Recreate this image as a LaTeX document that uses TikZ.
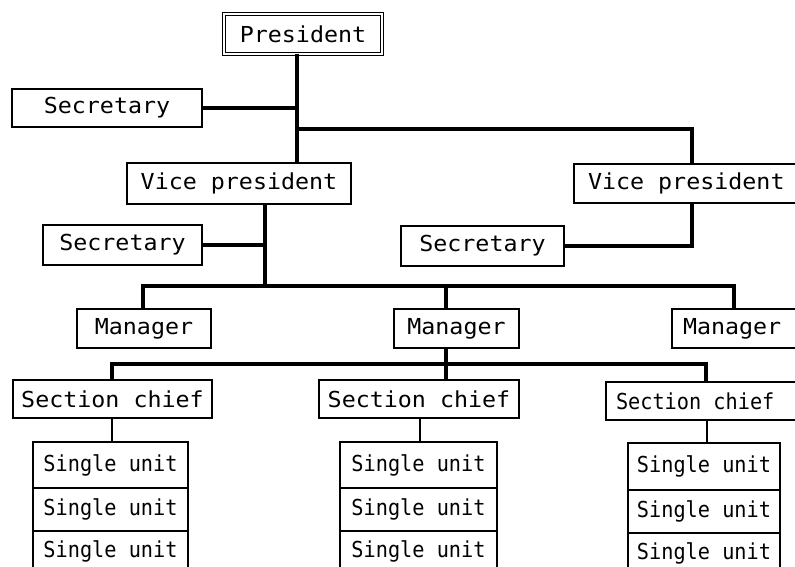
\documentclass[tikz,border=0pt]{standalone}
\usepackage{fontspec}
\newfontfamily\plotfont{DejaVu Sans Mono}[FakeStretch=1.06]
\newfontfamily\unitfont{DejaVu Sans Mono}[FakeStretch=0.92]
\newcommand{\lefttext}[1]{\makebox[200pt][l]{#1}}
\begin{document}
\begin{tikzpicture}[x=1pt,y=-1pt,
  box/.style={draw, line width=1.3pt, font={\plotfont\fontsize{22}{26}\selectfont},
    inner sep=0pt, outer sep=0pt, anchor=north west},
  lbox/.style={box, inner xsep=#1},
  unit/.style={draw, line width=1.3pt, font={\unitfont\fontsize{22}{26}\selectfont},
    inner sep=0pt, outer sep=0pt, anchor=north west},
  bar/.style={line width=3.2pt},
  link/.style={line width=1.3pt}]
\useasboundingbox (0,0) rectangle (795,567);
\clip (0,0) rectangle (795,567);
% boxes
\node[box, double, double distance=2.5pt, line width=0.9pt,
      minimum width=158pt, minimum height=40pt] (pres) at (224,14) {President};
\node[box, minimum width=190pt, minimum height=38pt] (sec1) at (12,89) {Secretary};
\node[box, minimum width=224pt, minimum height=41pt] (vp1) at (127,163) {Vice president};
\node[lbox=14pt, minimum height=39pt] (vp2) at (574,164) {\lefttext{Vice president}};
\node[box, minimum width=159pt, minimum height=40pt] (sec2) at (43,225) {Secretary};
\node[box, minimum width=163pt, minimum height=40pt] (sec3) at (401,226) {Secretary};
\node[box, minimum width=134pt, minimum height=39pt] (man1) at (77,309) {Manager};
\node[box, minimum width=125pt, minimum height=39pt] (man2) at (394,309) {Manager};
\node[lbox=11pt, minimum height=39pt] (man3) at (672,309) {\lefttext{Manager}};
\node[box, minimum width=199pt, minimum height=38pt] (sc1) at (13,380) {Section chief};
\node[box, minimum width=200pt, minimum height=38pt] (sc2) at (319,380) {Section chief};
\node[lbox=10pt, minimum height=38pt, font={\unitfont\fontsize{22}{26}\selectfont}] (sc3) at (606,382) {\lefttext{Section chief}};
% single units
\node[unit, minimum width=155pt, minimum height=46pt] (u11) at (33,442) {Single unit};
\node[unit, minimum width=155pt, minimum height=43pt] (u12) at (33,488) {Single unit};
\node[unit, minimum width=155pt, minimum height=40pt] (u13) at (33,531) {Single unit};
\node[unit, minimum width=157pt, minimum height=46pt] (u21) at (340,442) {Single unit};
\node[unit, minimum width=157pt, minimum height=43pt] (u22) at (340,488) {Single unit};
\node[unit, minimum width=157pt, minimum height=40pt] (u23) at (340,531) {Single unit};
\node[unit, minimum width=152pt, minimum height=47pt] (u31) at (628,443) {Single unit};
\node[unit, minimum width=152pt, minimum height=43pt] (u32) at (628,490) {Single unit};
\node[unit, minimum width=152pt, minimum height=40pt] (u33) at (628,533) {Single unit};
% junction coordinates
\coordinate (p1) at (297,108);
\coordinate (p2) at (297,129);
\coordinate (p3) at (692,129);
\coordinate (q1) at (265,286);
\coordinate (m1) at (143,286);
\coordinate (m2) at (446,286);
\coordinate (m3) at (734,286);
\coordinate (s1) at (112,364);
\coordinate (s3) at (706,364);
\coordinate (t2) at (420,430);
\coordinate (t3) at (707,430);
% connectors
\draw[bar] (pres.south -| p1) -- (vp1.north -| p1);
\draw[bar] (sec1.east) -- (sec1.east -| p1);
\draw[bar] (p2) -- (p3) -- (vp2.north -| p3);
\draw[bar] (vp1.south -| q1) -- (q1);
\draw[bar] (sec2.east) -- (sec2.east -| q1);
\draw[bar] (vp2.south -| p3) -- (sec3.east -| p3) -- (sec3.east);
\draw[bar] (man1.north -| m1) -- (m1) -- (m3) -- (man3.north -| m3);
\draw[bar] (m2) -- (man2.north -| m2);
\draw[bar] (man2.south -| m2) -- (sc2.north -| m2);
\draw[bar] (sc1.north -| s1) -- (s1) -- (s3) -- (sc3.north -| s3);
\draw[link] (sc1.south -| s1) -- (u11.north -| s1);
\draw[link] (sc2.south -| t2) -- (u21.north -| t2);
\draw[link] (sc3.south -| t3) -- (u31.north -| t3);
\end{tikzpicture}
\end{document}
